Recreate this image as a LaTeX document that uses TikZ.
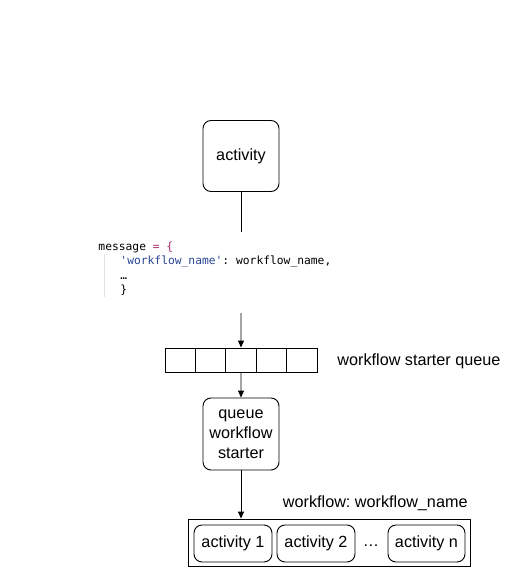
\documentclass[tikz,border=0pt]{standalone}
\usepackage{fontspec}
\setmainfont{Liberation Sans}
\setmonofont{DejaVu Sans Mono}
\usetikzlibrary{arrows.meta}
\definecolor{codekey}{RGB}{170,40,110}
\definecolor{codestr}{RGB}{40,70,150}
\definecolor{codebar}{RGB}{225,225,225}
\frenchspacing

\begin{document}
\begin{tikzpicture}[x=1pt,y=-1pt,line width=0.9pt,
  box/.style={draw,rounded corners=8pt,align=center,inner sep=0pt,font=\fontsize{16.2}{20}\selectfont},
  cell/.style={draw,minimum width=30.4pt,minimum height=24pt,inner sep=0pt},
  arr/.style={-{Triangle[length=7pt,width=6pt]}}]
\useasboundingbox (0,0) rectangle (510,570);

% activity on top
\node[box,minimum width=76pt,minimum height=71pt] (act) at (241,156) {activity};
\coordinate (msgtop) at (241,232);
\draw (act.south) -- (msgtop);

% message code
\fill[codebar] (103.5,254) rectangle (105,297);
\node[anchor=north west,align=left,inner sep=0pt,font=\ttfamily\fontsize{11.3}{14.5}\selectfont] (msg) at (98,241) {%
message \textcolor{codekey}{= \{}\\
\hspace*{22pt}\textcolor{codestr}{'workflow\_name'}: workflow\_name,\\
\hspace*{22pt}…\\
\hspace*{22pt}\}};
\coordinate (msgbot) at (241,313);

% workflow starter queue
\foreach \i in {1,...,5} {
  \node[cell] (q\i) at ({165+15.2+30.4*(\i-1)},360) {};
}
\node[anchor=west,inner sep=0pt,font=\fontsize{16.2}{18}\selectfont] (qlabel) at (337,361) {workflow starter queue};
\draw[arr] (msgbot) -- (q3.north);

% queue workflow starter
\node[box,minimum width=76pt,minimum height=72pt] (starter) at (241,434) {queue\\workflow\\starter};
\draw[arr] (q3.south) -- (starter.north);

% workflow with its activities
\node[draw,minimum width=282pt,minimum height=47pt,inner sep=0pt] (wf) at (329,542.5) {};
\node[anchor=south east,inner sep=0pt,font=\fontsize{16.2}{18}\selectfont] (wflabel) at (468,511) {workflow: workflow\_name};
\node[box,minimum width=78pt,minimum height=37pt] (a1) at (233,543.5) {activity 1};
\node[box,minimum width=78pt,minimum height=37pt] (a2) at (316,543.5) {activity 2};
\node[inner sep=0pt,font=\fontsize{16.2}{18}\selectfont] (dots) at (371,546) {…};
\node[box,minimum width=77pt,minimum height=37pt] (an) at (426.5,543.5) {activity n};
\draw[arr] (starter.south) -- (starter.south |- wf.north);
\end{tikzpicture}
\end{document}
